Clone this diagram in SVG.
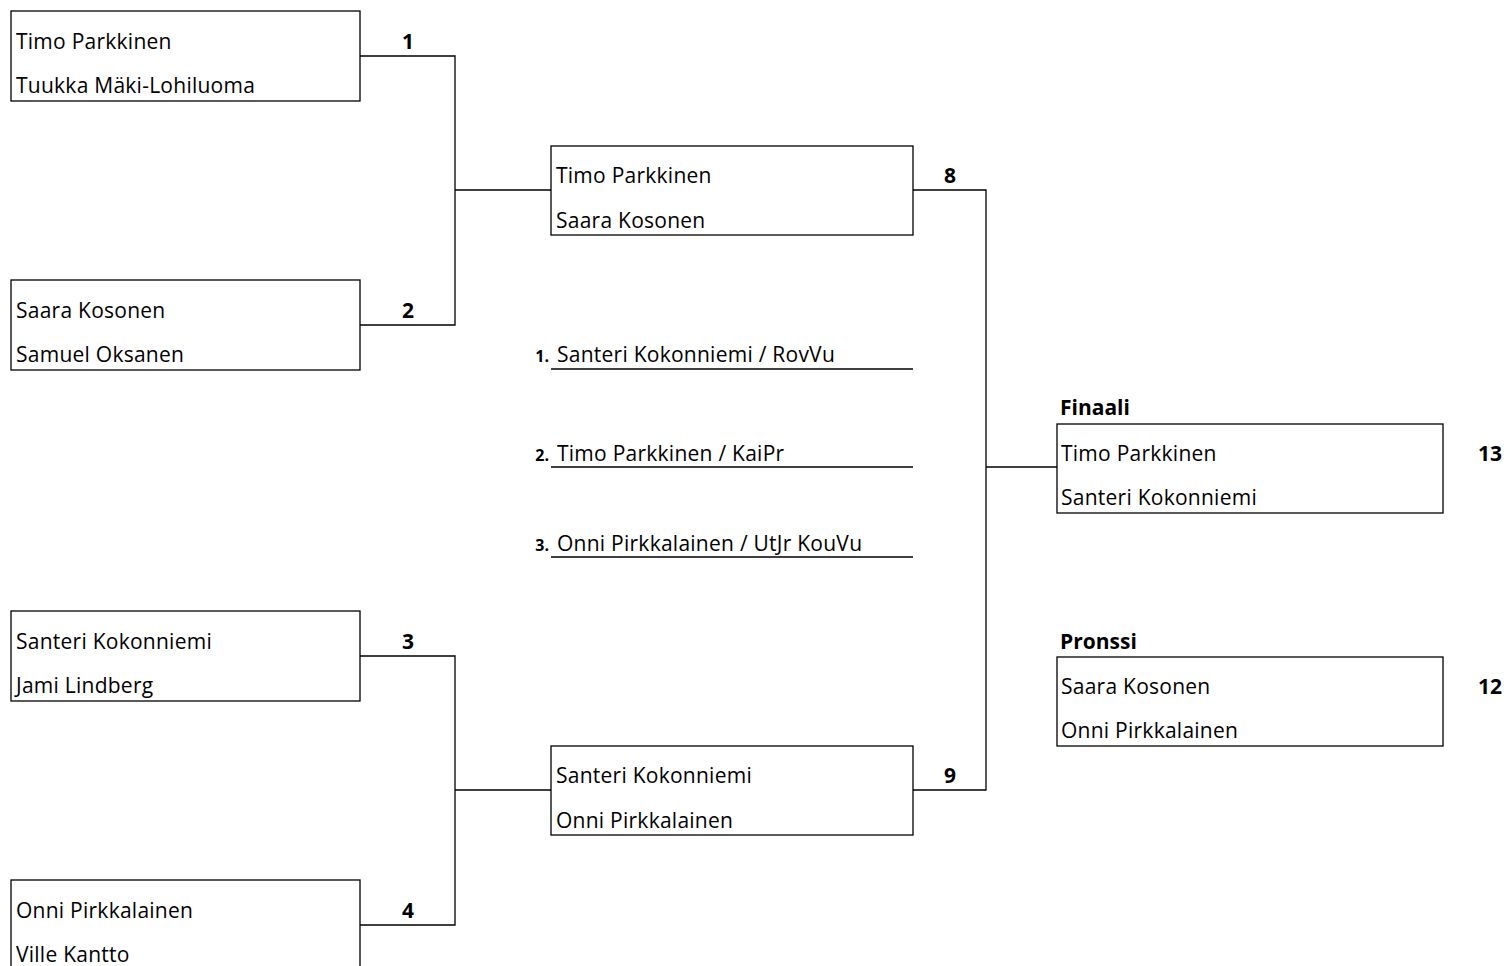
<svg xmlns="http://www.w3.org/2000/svg" width="1510" height="966" viewBox="0 0 1510 966">
<style>
.box{fill:#fff;stroke:#000;stroke-width:1.3}
.ln{fill:none;stroke:#000;stroke-width:1.3}
text{font-family:"Open Sans","Liberation Sans",sans-serif;font-size:21px;fill:#000;letter-spacing:0.25px}
.b{font-weight:bold;letter-spacing:0}
.n{font-weight:bold;text-anchor:middle;letter-spacing:0}
.s{font-weight:bold;font-size:16px;text-anchor:end;letter-spacing:0}
</style>
<rect width="1510" height="966" fill="#fff"/>
<g id="connectors">
<path class="ln" d="M360,56H455V325H360M455,190H551"/>
<path class="ln" d="M360,656H455V925H360M455,790H551"/>
<path class="ln" d="M913,190H986V790H913M986,467H1057"/>
<path class="ln" d="M551,369H913M551,467H913M551,557H913"/>
</g>
<g id="m1"><rect class="box" x="11" y="11" width="349" height="90"/><text x="16" y="49">Timo Parkkinen</text><text x="16" y="93">Tuukka Mäki-Lohiluoma</text><text class="n" x="408" y="49">1</text></g>
<g id="m2"><rect class="box" x="11" y="280" width="349" height="90"/><text x="16" y="318">Saara Kosonen</text><text x="16" y="362">Samuel Oksanen</text><text class="n" x="408" y="318">2</text></g>
<g id="m3"><rect class="box" x="11" y="611" width="349" height="90"/><text x="16" y="649">Santeri Kokonniemi</text><text x="16" y="693">Jami Lindberg</text><text class="n" x="408" y="649">3</text></g>
<g id="m4"><rect class="box" x="11" y="880" width="349" height="100"/><text x="16" y="918">Onni Pirkkalainen</text><text x="16" y="962">Ville Kantto</text><text class="n" x="408" y="918">4</text></g>
<g id="m8"><rect class="box" x="551" y="146" width="362" height="89"/><text x="556" y="183">Timo Parkkinen</text><text x="556" y="228">Saara Kosonen</text><text class="n" x="950" y="183">8</text></g>
<g id="m9"><rect class="box" x="551" y="746" width="362" height="89"/><text x="556" y="783">Santeri Kokonniemi</text><text x="556" y="828">Onni Pirkkalainen</text><text class="n" x="950" y="783">9</text></g>
<g id="final"><text class="b" x="1060" y="415">Finaali</text><rect class="box" x="1057" y="424" width="386" height="89"/><text x="1061" y="461">Timo Parkkinen</text><text x="1061" y="505">Santeri Kokonniemi</text><text class="n" x="1490" y="461">13</text></g>
<g id="bronze"><text class="b" x="1060" y="649">Pronssi</text><rect class="box" x="1057" y="657" width="386" height="89"/><text x="1061" y="694">Saara Kosonen</text><text x="1061" y="738">Onni Pirkkalainen</text><text class="n" x="1490" y="694">12</text></g>
<g id="podium">
<text class="s" x="549" y="362">1.</text><text x="557" y="362">Santeri Kokonniemi / RovVu</text>
<text class="s" x="549" y="461">2.</text><text x="557" y="461">Timo Parkkinen / KaiPr</text>
<text class="s" x="549" y="551">3.</text><text x="557" y="551">Onni Pirkkalainen / UtJr KouVu</text>
</g>
</svg>
